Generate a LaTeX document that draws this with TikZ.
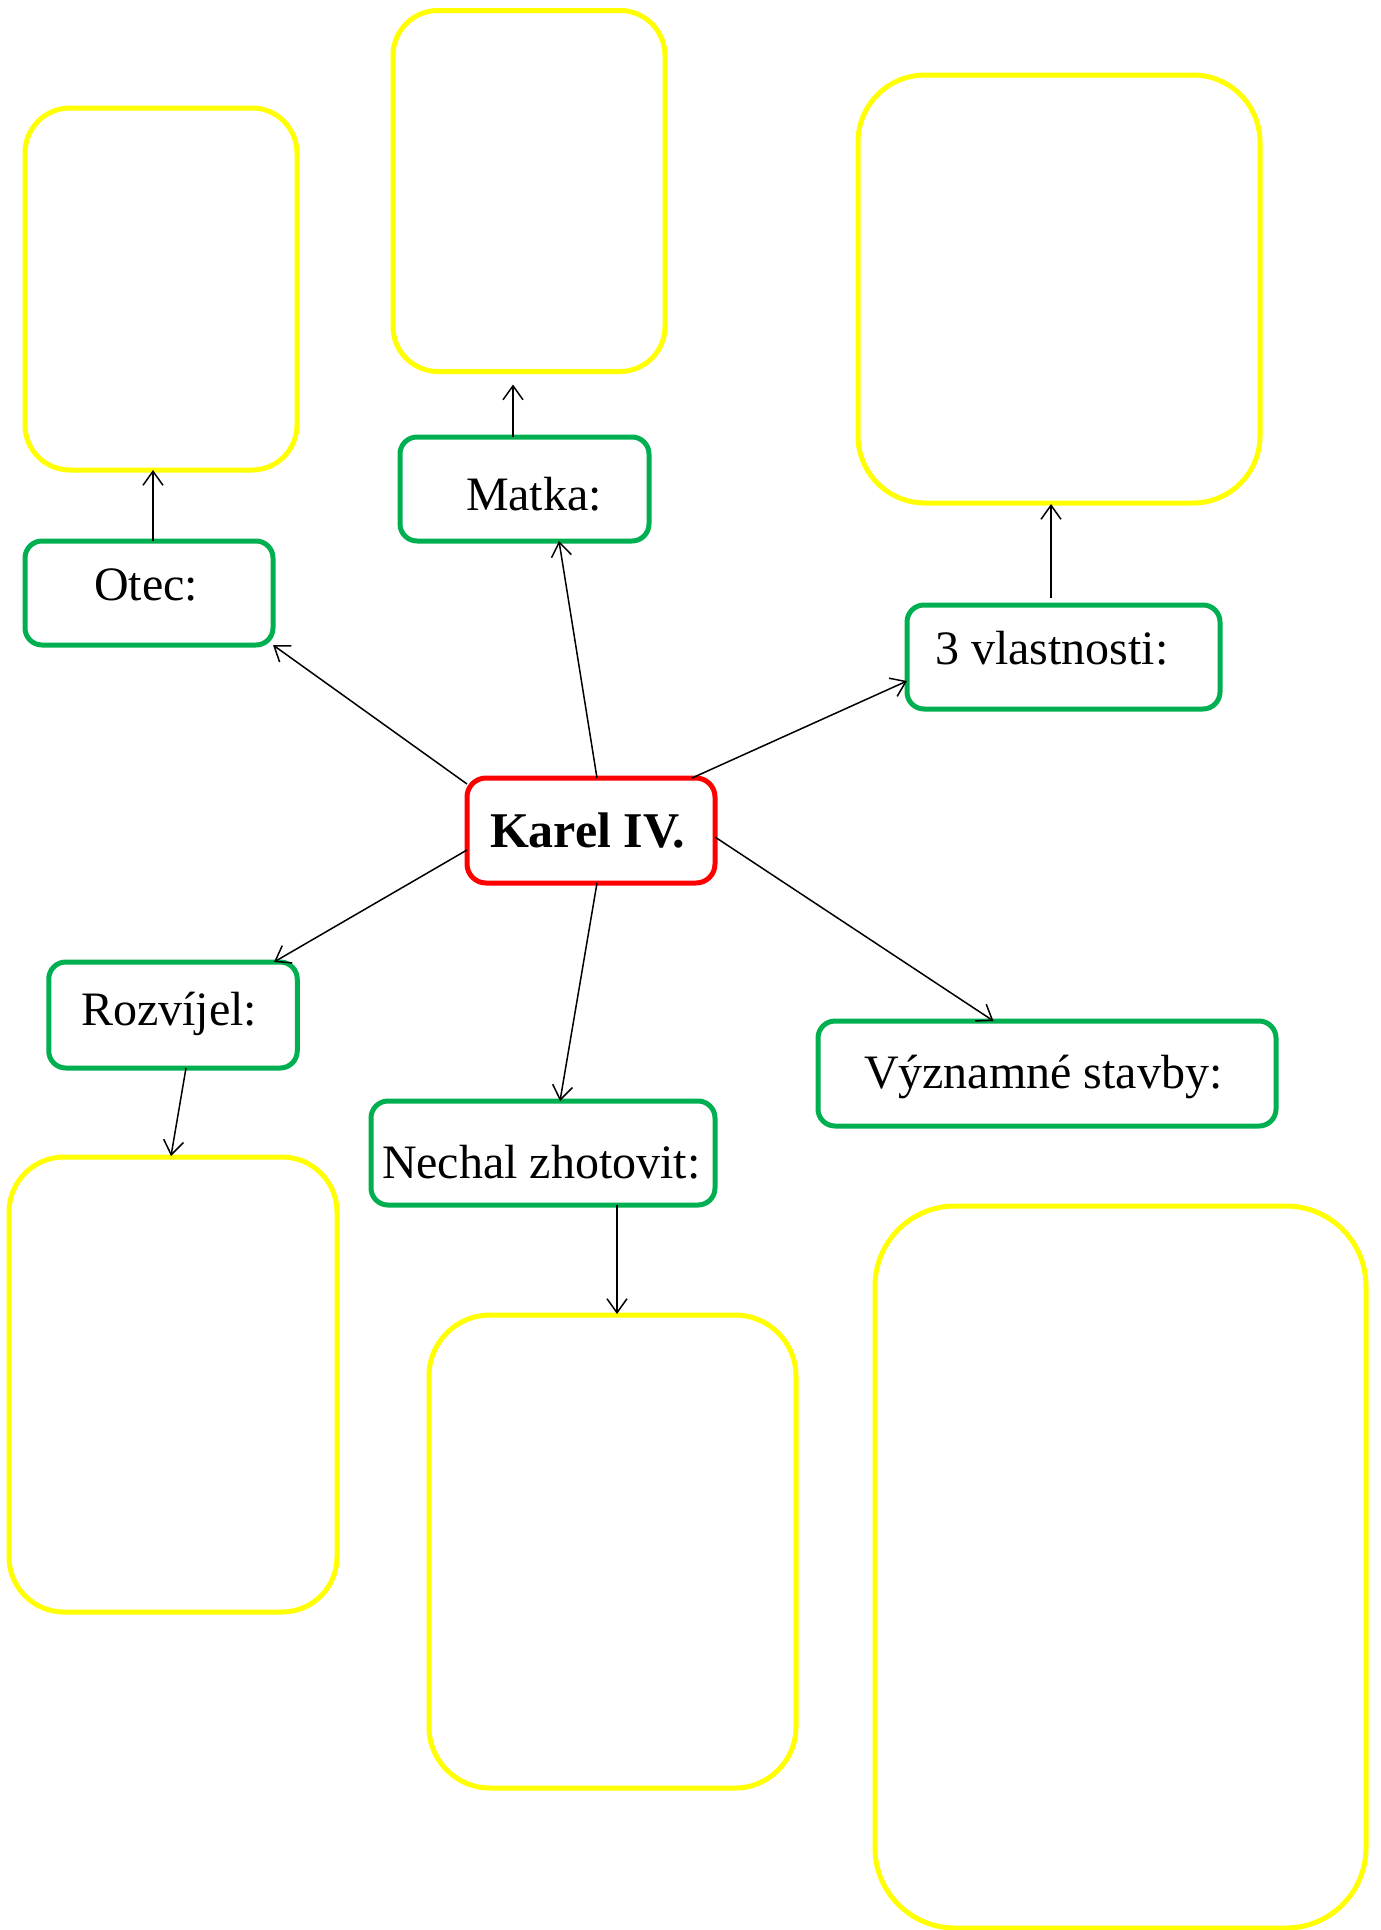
\documentclass[tikz,border=0pt]{standalone}
\usepackage{fontspec}
\setmainfont{Liberation Serif}
\usetikzlibrary{arrows.meta,calc}
\definecolor{ybox}{HTML}{FFFF00}
\definecolor{gbox}{HTML}{00B050}
\definecolor{rbox}{HTML}{FF0000}
\tikzset{
  yellowbox/.style={draw=ybox, line width=5pt, rectangle, outer sep=0pt, inner sep=0pt},
  greenbox/.style={draw=gbox, line width=5pt, rectangle, rounded corners=17pt, outer sep=0pt, inner sep=0pt},
  redbox/.style={draw=rbox, line width=5pt, rectangle, rounded corners=19pt, outer sep=0pt, inner sep=0pt},
  lbl/.style={anchor=base west, inner sep=0pt, outer sep=0pt, font=\fontsize{48}{58}\selectfont},
  conn/.style={draw=black, line width=1.5pt, -{Straight Barb[length=14pt,width=20pt,line width=1.5pt]}}
}
\begin{document}
\begin{tikzpicture}[x=1pt,y=-1pt]
\useasboundingbox (0,0) rectangle (1381,1930);
% yellow answer boxes
\node[yellowbox, rounded corners=45pt, minimum width=272pt, minimum height=362pt] (yOtec) at (161,289) {};
\node[yellowbox, rounded corners=45pt, minimum width=272pt, minimum height=361pt] (yMatka) at (529,191) {};
\node[yellowbox, rounded corners=67pt, minimum width=402pt, minimum height=428pt] (yVlast) at (1059,289) {};
\node[yellowbox, rounded corners=55pt, minimum width=328pt, minimum height=455pt] (yRoz) at (173,1384.5) {};
\node[yellowbox, rounded corners=61pt, minimum width=367pt, minimum height=473pt] (yNech) at (612.5,1551.5) {};
\node[yellowbox, rounded corners=80pt, minimum width=491pt, minimum height=722pt] (yVyz) at (1120.5,1567) {};
% green boxes
\node[greenbox, minimum width=248pt, minimum height=104pt] (gOtec) at (149,593) {};
\node[greenbox, minimum width=249pt, minimum height=104pt] (gMatka) at (524.5,489) {};
\node[greenbox, minimum width=313pt, minimum height=104pt] (gVlast) at (1063.5,657) {};
\node[greenbox, minimum width=248.5pt, minimum height=106pt] (gRoz) at (173,1015) {};
\node[greenbox, minimum width=344pt, minimum height=104pt] (gNech) at (543,1153) {};
\node[greenbox, minimum width=458pt, minimum height=105pt] (gVyz) at (1047,1073.5) {};
% central box
\node[redbox, minimum width=248pt, minimum height=105pt] (karel) at (591,830.5) {};
% labels
\node[lbl] (tOtec) at (94,600) {Otec:};
\node[lbl] (tMatka) at (466,510) {Matka:};
\node[lbl] (tVlast) at (935,664.5) {3 vlastnosti:};
\node[lbl] (tRoz) at (81,1025) {Rozvíjel:};
\node[lbl] (tNech) at (382,1178) {Nechal zhotovit:};
\node[lbl] (tVyz) at (864,1088) {Významné stavby:};
\node[lbl, font=\fontsize{50}{60}\selectfont\bfseries] (tKarel) at (490,847) {Karel IV.};
% connectors from the centre
\draw[conn] ($(karel.north west)+(0,6)$) -- (gOtec.south east);
\draw[conn] ($(karel.north)+(6,0)$) -- ($(gMatka.south)+(34.5,0)$);
\draw[conn] ($(karel.north east)+(-23,0)$) -- ($(gVlast.west)+(0,24)$);
\draw[conn] ($(karel.west)+(0,19.5)$) -- ($(gRoz.north)+(101,0)$);
\draw[conn] ($(karel.south)+(6,0)$) -- ($(gNech.north)+(17,0)$);
\draw[conn] ($(karel.east)+(0,6.5)$) -- ($(gVyz.north)+(-53.5,0)$);
% connectors to the answer boxes
\draw[conn] ($(gOtec.north)+(4,0)$) -- ($(yOtec.south)+(-8,0)$);
\draw[conn] ($(gMatka.north)+(-11.5,0)$) -- ($(yMatka.south)+(-16,13)$);
\draw[conn] ($(gVlast.north)+(-12.5,-7)$) -- ($(yVlast.south)+(-8,1)$);
\draw[conn] ($(gRoz.south)+(13,0)$) -- ($(yRoz.north)+(-2,-1)$);
\draw[conn] ($(gNech.south)+(74,0)$) -- ($(yNech.north)+(4.5,-1)$);
\end{tikzpicture}
\end{document}
